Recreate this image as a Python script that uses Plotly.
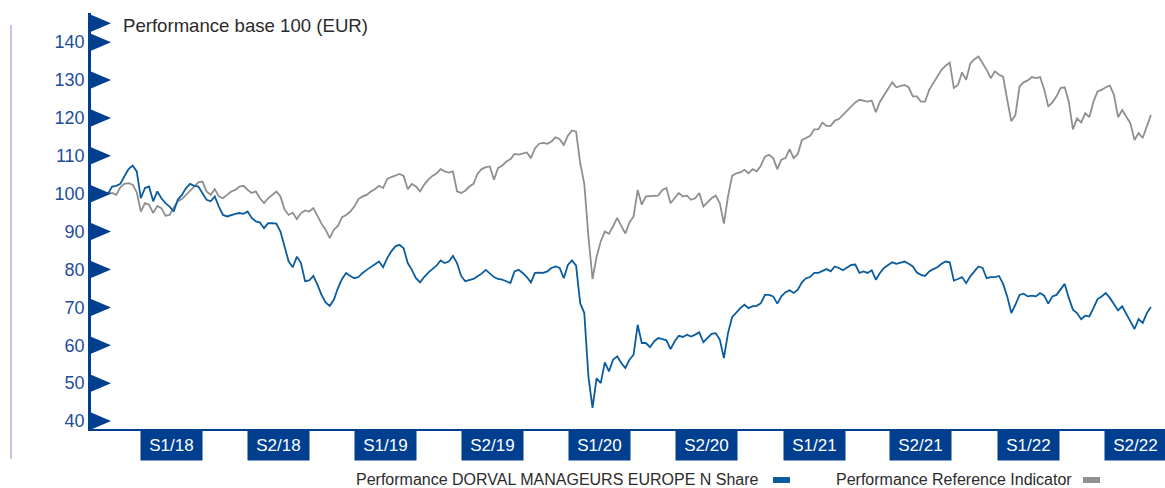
import plotly.graph_objects as go
import pandas as pd

# ---------------- data ----------------
dates = pd.date_range("2017-12-15", periods=255, freq="7D")

fund = [
    100.0, 101.9, 102.1, 102.6, 104.6, 106.5, 107.4, 105.9, 98.8, 101.5,
    101.9, 98.0, 100.6, 98.8, 97.5, 96.6, 95.3, 98.4, 99.7, 101.5,
    102.6, 102.1, 101.9, 100.2, 98.4, 98.0, 99.3, 96.6, 94.4, 94.0,
    94.4, 94.7, 94.9, 94.7, 95.3, 93.6, 92.7, 92.4, 90.9, 92.2,
    92.2, 92.1, 90.0, 86.1, 82.1, 80.6, 83.4, 81.7, 76.9, 77.1,
    78.3, 76.0, 73.3, 71.3, 70.4, 72.0, 75.1, 77.5, 79.1, 78.3,
    77.7, 78.0, 79.1, 79.9, 80.6, 81.2, 82.1, 80.6, 83.0, 84.8,
    86.1, 86.5, 85.6, 81.7, 79.9, 77.7, 76.6, 78.0, 79.2, 80.1,
    81.0, 82.4, 81.7, 82.1, 83.6, 81.7, 78.3, 76.9, 77.1, 77.5,
    78.2, 78.9, 79.9, 78.9, 78.0, 77.5, 77.3, 76.9, 76.4, 79.5,
    79.9, 79.1, 78.0, 76.6, 79.1, 79.2, 79.1, 79.5, 80.4, 80.8,
    80.4, 77.7, 81.2, 82.4, 81.0, 71.1, 68.5, 51.8, 43.5, 51.3,
    50.0, 55.5, 53.1, 56.2, 57.1, 55.3, 54.0, 56.2, 57.5, 65.4,
    60.6, 60.6, 59.5, 61.0, 61.9, 61.6, 61.3, 59.0, 61.0, 62.5,
    62.2, 62.8, 62.3, 62.8, 63.4, 60.8, 61.9, 63.0, 63.2, 61.5,
    56.6, 63.2, 67.4, 68.7, 69.8, 70.7, 69.8, 70.3, 70.4, 71.1,
    73.3, 73.3, 72.9, 71.0, 72.9, 74.0, 74.5, 73.8, 74.7, 76.6,
    77.7, 78.0, 79.1, 79.1, 79.6, 80.1, 79.5, 80.8, 80.4, 79.8,
    80.5, 81.2, 81.3, 79.1, 79.5, 79.1, 79.8, 77.3, 79.1, 80.4,
    81.2, 81.9, 81.5, 81.7, 82.1, 81.5, 80.8, 79.2, 78.6, 78.3,
    79.5, 80.1, 80.6, 81.5, 82.1, 81.9, 77.1, 77.5, 78.0, 76.4,
    78.2, 79.5, 80.8, 80.4, 77.7, 78.0, 78.0, 78.3, 76.2, 72.9,
    68.5, 70.7, 73.3, 73.6, 72.9, 73.1, 72.9, 73.8, 73.1, 71.0,
    72.9, 73.3, 74.8, 76.2, 72.5, 69.4, 68.5, 66.9, 67.8, 67.6,
    69.8, 72.2, 72.9, 73.8, 72.5, 70.7, 69.2, 70.3, 68.1, 66.3,
    64.3, 66.9, 65.9, 68.5, 70.1,
]

reference = [
    100.0, 100.2, 99.7, 101.7, 102.6, 102.8, 102.4, 100.4, 95.3, 97.5,
    97.1, 94.9, 96.8, 96.2, 94.2, 94.4, 96.4, 98.0, 98.6, 99.7,
    100.8, 101.9, 103.0, 103.2, 100.6, 99.7, 101.2, 99.3, 98.8, 99.7,
    100.6, 101.0, 101.9, 102.1, 101.0, 100.2, 100.6, 98.8, 97.5, 98.8,
    99.7, 100.6, 99.3, 95.8, 94.4, 95.0, 93.3, 94.9, 95.6, 95.3,
    96.2, 94.0, 92.1, 90.5, 88.3, 90.5, 91.5, 93.8, 94.4, 95.3,
    96.6, 98.6, 99.3, 99.7, 100.6, 101.2, 102.1, 101.5, 103.9, 104.4,
    104.7, 105.2, 104.7, 101.2, 102.6, 101.9, 100.6, 102.4, 103.7, 104.7,
    105.3, 106.5, 105.9, 105.6, 105.9, 100.6, 100.2, 100.8, 101.9, 102.6,
    105.3, 106.5, 107.0, 107.2, 103.7, 106.8, 107.4, 108.5, 109.1, 110.5,
    110.3, 110.7, 110.9, 109.4, 112.0, 113.2, 113.4, 113.2, 113.8, 114.9,
    114.4, 112.9, 115.3, 116.7, 116.4, 108.1, 102.6, 88.7, 77.5, 83.4,
    87.4, 90.0, 89.4, 91.4, 93.6, 91.5, 89.5, 92.4, 94.0, 101.0,
    97.1, 99.3, 99.3, 99.3, 99.5, 101.0, 101.5, 97.5, 98.8, 100.2,
    99.3, 99.5, 98.4, 98.8, 100.2, 96.6, 97.7, 98.8, 99.5, 97.5,
    92.1, 99.3, 104.7, 105.4, 105.6, 106.3, 105.4, 106.5, 105.9, 107.4,
    109.8, 110.3, 109.4, 106.5, 109.0, 109.4, 111.8, 109.4, 110.5, 114.2,
    114.7, 115.3, 117.0, 117.0, 118.8, 117.9, 117.9, 119.3, 119.7, 120.8,
    121.7, 122.9, 124.1, 124.8, 124.6, 124.3, 124.6, 121.5, 124.3, 126.1,
    127.9, 129.4, 128.1, 128.3, 128.7, 128.1, 125.7, 125.7, 124.3, 124.3,
    127.4, 129.2, 130.8, 132.7, 133.8, 134.6, 127.9, 128.7, 132.0, 130.1,
    134.3, 135.5, 136.2, 134.6, 132.7, 130.5, 132.3, 131.4, 130.9, 124.8,
    119.1, 120.8, 128.3, 129.4, 129.9, 130.8, 130.5, 130.8, 127.6, 123.0,
    124.1, 125.7, 127.9, 128.1, 124.3, 117.0, 119.9, 118.8, 121.3, 120.2,
    124.3, 127.0, 127.4, 128.1, 128.5, 126.1, 120.2, 122.1, 120.2, 118.6,
    114.2, 116.0, 114.7, 117.7, 120.8,
]

y_ticks = [40, 50, 60, 70, 80, 90, 100, 110, 120, 130, 140]
y_top_marker = 145

period_labels = ["S1/18", "S2/18", "S1/19", "S2/19", "S1/20",
                 "S2/20", "S1/21", "S2/21", "S1/22", "S2/22"]
period_centers = ["2018-04-02", "2018-10-01", "2019-04-02", "2019-10-01", "2020-04-01",
                  "2020-10-01", "2021-04-02", "2021-10-01", "2022-04-02", "2022-10-01"]

series_names = ["Performance DORVAL MANAGEURS EUROPE N Share",
                "Performance Reference Indicator"]

# ---------------- style ----------------
W, H = 1165, 488
ML, MR, MT, MB = 91, 0, 13, 59
PW, PH = W - ML - MR, H - MT - MB

NAVY = "#003f8f"
FUND_C = "#0b5c9d"
REF_C = "#8f8f8f"
TICK_C = "#1d4d9b"
TEXT_C = "#2b2b2b"
FONT = "Liberation Sans, Arial, sans-serif"


def px(x):
    return (x - ML) / PW


def py(y):
    return (H - MB - y) / PH


fig = go.Figure()
fig.add_trace(go.Scatter(x=dates, y=reference, mode="lines",
                         line=dict(color=REF_C, width=1.8), name=series_names[1],
                         showlegend=False))
fig.add_trace(go.Scatter(x=dates, y=fund, mode="lines",
                         line=dict(color=FUND_C, width=1.8), name=series_names[0],
                         showlegend=False))

shapes = []
# arrow-shaped tick markers along the y axis
for v in y_ticks + [y_top_marker]:
    shapes.append(dict(type="path", xref="paper", yref="y",
                       xsizemode="pixel", ysizemode="pixel",
                       xanchor=0, yanchor=v,
                       path="M 0 8.5 L 20 0 L 0 -8.5 Z",
                       fillcolor=NAVY, line=dict(width=0)))
# decorative left rule
shapes.append(dict(type="line", xref="paper", yref="paper",
                   x0=px(11), x1=px(11), y0=py(459), y1=py(25),
                   line=dict(color="#a9b5de", width=1.5)))
# legend swatches
shapes.append(dict(type="rect", xref="paper", yref="paper",
                   x0=px(773), x1=px(790), y0=py(483), y1=py(477),
                   fillcolor=FUND_C, line=dict(width=0)))
shapes.append(dict(type="rect", xref="paper", yref="paper",
                   x0=px(1083), x1=px(1100), y0=py(483), y1=py(477),
                   fillcolor=REF_C, line=dict(width=0)))

annotations = []
annotations.append(dict(text="Performance base 100 (EUR)", xref="paper", yref="paper",
                        x=px(121), y=py(25), xanchor="left", yanchor="middle",
                        showarrow=False, font=dict(size=18.6, color=TEXT_C, family=FONT)))
for lab, c in zip(period_labels, period_centers):
    annotations.append(dict(text=lab, xref="x", yref="paper", x=c, y=0,
                            xanchor="center", yanchor="top", showarrow=False,
                            width=61, height=30, borderpad=0, bgcolor=NAVY,
                            font=dict(size=17, color="white", family=FONT)))
annotations.append(dict(text=series_names[0], xref="paper", yref="paper",
                        x=px(354), y=py(480), xanchor="left", yanchor="middle",
                        showarrow=False, font=dict(size=16, color=TEXT_C, family=FONT)))
annotations.append(dict(text=series_names[1], xref="paper", yref="paper",
                        x=px(834), y=py(480), xanchor="left", yanchor="middle",
                        showarrow=False, font=dict(size=16, color=TEXT_C, family=FONT)))

fig.update_layout(
    width=W, height=H,
    margin=dict(l=ML, r=MR, t=MT, b=MB, pad=0),
    paper_bgcolor="white", plot_bgcolor="white",
    font=dict(family=FONT),
    showlegend=False,
    shapes=shapes,
    annotations=annotations,
    xaxis=dict(type="date", range=["2017-11-16", "2022-11-21"],
               showgrid=False, zeroline=False, showticklabels=False, ticks="",
               showline=True, linecolor=NAVY, linewidth=2, fixedrange=True),
    yaxis=dict(range=[37.9, 147.7], tickvals=y_ticks, ticktext=[str(v) for v in y_ticks],
               showgrid=False, zeroline=False, ticks="",
               showline=True, linecolor=NAVY, linewidth=2.5,
               tickfont=dict(size=18, color=TICK_C, family=FONT),
               ticklabelstandoff=0, fixedrange=True),
)

fig.write_html("out.html", config={"displayModeBar": False},
               post_script="document.body.style.margin='0';document.body.style.overflow='hidden';")
